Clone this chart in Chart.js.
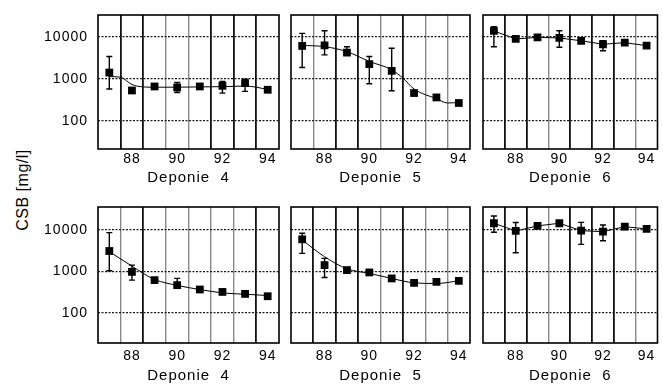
<!DOCTYPE html>
<html>
<head>
<meta charset="utf-8">
<script src="https://cdn.jsdelivr.net/npm/chart.js@4/dist/chart.umd.min.js"></script>
<style>
  html, body { margin: 0; padding: 0; background: #fff; width: 663px; height: 384px; overflow: hidden; }
  .panel { position: absolute; }
  #ylab {
    position: absolute; left: 23px; top: 190px;
    transform: translate(-50%, -50%) rotate(-90deg);
    font: 16px 'Liberation Sans', Arial, sans-serif; letter-spacing: 0.5px;
    white-space: nowrap; color: #000;
  }
</style>
</head>
<body>
<div id="ylab">CSB [mg/l]</div>
<script>
// Sampling years (19xx) and axis labelling
const years = [87, 88, 89, 90, 91, 92, 93, 94];
const xTickLabels = [88, 90, 92, 94];
const yTickValues = [100, 1000, 10000];
const gridYears = [87.5, 88.5, 89.5, 90.5, 91.5, 92.5, 93.5];
const siteNames = ['Deponie  4', 'Deponie  5', 'Deponie  6'];

// Upper row: CSB means [mg/l] with error range (null = no bar)
const csbTop4 = [1410, 526, 656, 620, 656, 680, 790, 547];
const loTop4  = [570, 460, null, 470, null, 455, 500, null];
const hiTop4  = [3400, 590, null, 815, null, 860, 980, null];
const fitYearsTop4 = [87, 87.5, 88, 88.5, 89, 90, 91, 92, 93, 93.5, 94];
const fitTop4      = [1130, 1090, 730, 640, 630, 630, 640, 650, 670, 630, 550];

const csbTop5 = [6100, 6300, 4230, 2240, 1550, 457, 359, 264];
const loTop5  = [1860, 3730, 3730, 760, 518, 410, null, null];
const hiTop5  = [12200, 14100, 5860, 3400, 5380, 520, null, null];
const fitYearsTop5 = [87, 88, 89, 90, 91, 91.5, 92, 93, 93.5, 94];
const fitTop5      = [6300, 5860, 4470, 2600, 1640, 1040, 570, 335, 264, 273];

const csbTop6 = [13900, 8950, 9800, 9460, 8100, 6700, 7300, 6200];
const loTop6  = [5860, null, null, 5660, null, 4700, null, null];
const hiTop6  = [17600, null, null, 14100, null, 8100, null, null];

// Lower row
const csbBot4 = [3070, 970, 614, 465, 366, 320, 287, 252];
const loBot4  = [1030, 614, null, 400, null, null, null, null];
const hiBot4  = [8500, 1410, null, 675, null, null, null, null];
const fitYearsBot4 = [87, 88, 88.5, 89, 90, 91, 92, 93, 94];
const fitBot4      = [2950, 1335, 890, 636, 458, 366, 303, 282, 262];

const csbBot5 = [5870, 1410, 1070, 940, 675, 528, 558, 590];
const loBot5  = [2700, 713, null, null, null, null, null, null];
const hiBot5  = [8180, 2040, null, null, null, null, null, null];
const fitYearsBot5 = [87, 88, 89, 90, 91, 92, 93, 94];
const fitBot5      = [5650, 2240, 1150, 890, 675, 528, 510, 590];

const csbBot6 = [14260, 9300, 12300, 14260, 9460, 8950, 11800, 10400];
const loBot6  = [8650, 2790, null, null, 4440, 5430, null, null];
const hiBot6  = [21300, 14800, null, null, 15000, 12900, null, null];

// Page geometry of the six plot frames
const rows = [
  { top: 15,  bottom: 149, axisH: 40, tickPad: 1.5, titlePad: 2, min: 21, max: 33500 },
  { top: 207, bottom: 343, axisH: 45, tickPad: 4.5, titlePad: 3, min: 19, max: 35000 }
];
const cols = [
  { left: 98,  right: 279, yAxisW: 58 },
  { left: 291, right: 470, yAxisW: 0 },
  { left: 483, right: 662, yAxisW: 0 }
];

// Shade of each vertical separator line per panel (d = dark, l = light)
const separatorShades = [
  'ddllddd', 'lddldll', 'ddldddl',
  'ldlllld', 'dddldll', 'ddldddl'
];

const panels = [
  { row: 0, col: 0, vals: csbTop4, lo: loTop4, hi: hiTop4, fitX: fitYearsTop4, fit: fitTop4 },
  { row: 0, col: 1, vals: csbTop5, lo: loTop5, hi: hiTop5, fitX: fitYearsTop5, fit: fitTop5 },
  { row: 0, col: 2, vals: csbTop6, lo: loTop6, hi: hiTop6, fitX: null, fit: null },
  { row: 1, col: 0, vals: csbBot4, lo: loBot4, hi: hiBot4, fitX: fitYearsBot4, fit: fitBot4 },
  { row: 1, col: 1, vals: csbBot5, lo: loBot5, hi: hiBot5, fitX: fitYearsBot5, fit: fitBot5 },
  { row: 1, col: 2, vals: csbBot6, lo: loBot6, hi: hiBot6, fitX: null, fit: null }
];

const FONT = "'Liberation Sans', Arial, Helvetica, sans-serif";

// Error bars under the markers, spaced lettering, and the closed plot frame
const panelDecor = {
  id: 'panelDecor',
  beforeUpdate(chart) { chart.ctx.letterSpacing = '1px'; },
  beforeDraw(chart) { chart.ctx.letterSpacing = '1px'; },
  beforeDatasetsDraw(chart, args, opts) {
    const { ctx, scales: { x, y } } = chart;
    ctx.save();
    ctx.strokeStyle = '#000';
    ctx.lineWidth = 1.4;
    opts.lo.forEach((lo, i) => {
      const hi = opts.hi[i];
      if (lo == null || hi == null) return;
      const px = x.getPixelForValue(years[i]);
      const y1 = y.getPixelForValue(lo);
      const y2 = y.getPixelForValue(hi);
      ctx.beginPath();
      ctx.moveTo(px, y1); ctx.lineTo(px, y2);
      ctx.moveTo(px - 3, y1); ctx.lineTo(px + 3, y1);
      ctx.moveTo(px - 3, y2); ctx.lineTo(px + 3, y2);
      ctx.stroke();
    });
    ctx.restore();
  },
  afterDraw(chart) {
    const { ctx, chartArea: a } = chart;
    ctx.save();
    ctx.strokeStyle = '#000';
    ctx.lineWidth = 1.6;
    ctx.strokeRect(a.left, a.top, a.right - a.left, a.bottom - a.top);
    ctx.restore();
  }
};

panels.forEach((p, idx) => {
  const r = rows[p.row], c = cols[p.col];
  const padT = 8, padB = 2;
  const padL = p.col === 0 ? 4 : 10;
  const padR = p.col === 2 ? 1 : 10;
  const div = document.createElement('div');
  div.className = 'panel';
  const left = c.left - c.yAxisW - padL;
  const top = r.top - padT;
  div.style.left = left + 'px';
  div.style.top = top + 'px';
  div.style.width = (c.right + padR - left) + 'px';
  div.style.height = (r.bottom + r.axisH + padB - top) + 'px';
  const canvas = document.createElement('canvas');
  div.appendChild(canvas);
  document.body.appendChild(div);

  const shades = separatorShades[idx];
  const connectPoints = !p.fit;

  const datasets = [{
    data: years.map((yr, i) => ({ x: yr, y: p.vals[i] })),
    showLine: connectPoints,
    borderColor: '#000',
    borderWidth: 1,
    backgroundColor: '#000',
    pointStyle: 'rect',
    pointRadius: 5.5,
    pointBorderWidth: 0,
    pointBackgroundColor: '#000',
    order: 0
  }];
  if (p.fit) {
    datasets.push({
      data: p.fitX.map((yr, i) => ({ x: yr, y: p.fit[i] })),
      showLine: true,
      borderColor: '#000',
      borderWidth: 1,
      pointRadius: 0,
      cubicInterpolationMode: 'monotone',
      order: 1
    });
  }

  new Chart(canvas, {
    type: 'scatter',
    data: { datasets },
    plugins: [panelDecor],
    options: {
      responsive: true,
      maintainAspectRatio: false,
      devicePixelRatio: 1,
      animation: false,
      events: [],
      layout: { padding: { left: padL, right: padR, top: padT, bottom: padB } },
      plugins: {
        legend: { display: false },
        tooltip: { enabled: false },
        panelDecor: { lo: p.lo, hi: p.hi }
      },
      scales: {
        x: {
          type: 'linear',
          min: 86.5, max: 94.5,
          afterBuildTicks: s => {
            s.ticks = xTickLabels.concat(gridYears).sort((a, b) => a - b).map(v => ({ value: v }));
          },
          afterFit: s => { s.height = r.axisH; s.paddingLeft = 0; s.paddingRight = 0; },
          ticks: {
            autoSkip: false, maxRotation: 0, padding: r.tickPad, color: '#000',
            font: { family: FONT, size: 14 },
            callback: v => (xTickLabels.includes(v) ? String(v) : '')
          },
          grid: {
            drawTicks: false,
            color: ctx => {
              const v = ctx.tick ? ctx.tick.value : null;
              const gi = gridYears.indexOf(v);
              if (gi < 0) return 'rgba(0,0,0,0)';
              return shades[gi] === 'd' ? '#111' : '#8a8a8a';
            },
            lineWidth: ctx => {
              const v = ctx.tick ? ctx.tick.value : null;
              const gi = gridYears.indexOf(v);
              if (gi < 0) return 0;
              return shades[gi] === 'd' ? 1.8 : 1.4;
            }
          },
          border: { display: false },
          title: {
            display: true, text: siteNames[p.col], color: '#000',
            font: { family: FONT, size: 15 },
            padding: { top: 0, bottom: r.titlePad }
          }
        },
        y: {
          type: 'logarithmic',
          min: r.min, max: r.max,
          afterBuildTicks: s => { s.ticks = yTickValues.map(v => ({ value: v })); },
          afterFit: s => { s.width = c.yAxisW; s.paddingTop = 0; s.paddingBottom = 0; },
          ticks: {
            display: p.col === 0, padding: 10, color: '#000',
            font: { family: FONT, size: 14 },
            callback: v => String(v)
          },
          grid: { drawTicks: false, color: '#1a1a1a', lineWidth: 1.3 },
          border: { display: false, dash: [2, 1.5] }
        }
      }
    }
  });
});
</script>
</body>
</html>
